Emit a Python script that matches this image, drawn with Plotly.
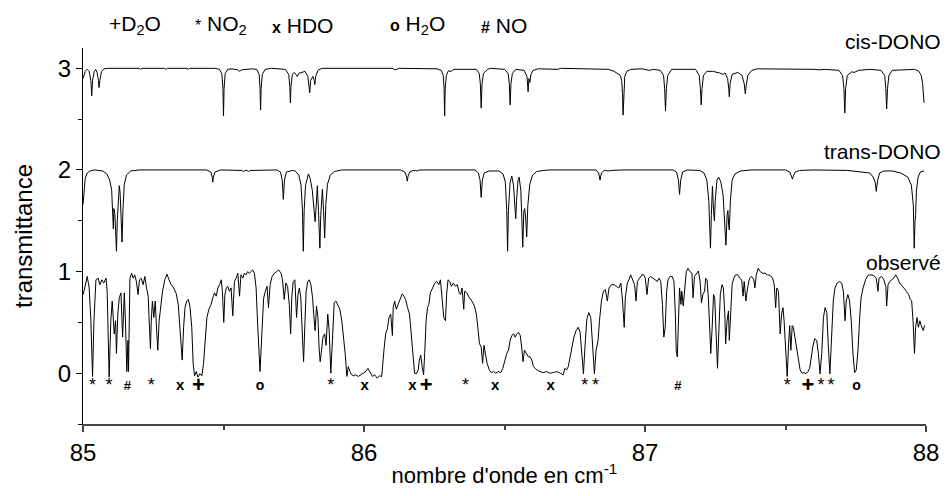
import plotly.graph_objects as go

# simulated cis-DONO spectrum (offset +3)
cis = [
    (85.000, 2.90), (85.008, 2.97), (85.015, 2.99), (85.022, 2.97), (85.028, 2.88),
    (85.031, 2.73), (85.034, 2.88), (85.040, 2.97), (85.045, 2.99), (85.050, 2.96),
    (85.055, 2.88), (85.057, 2.81), (85.060, 2.88), (85.066, 2.97), (85.075, 2.995),
    (85.090, 3.0), (85.200, 3.0), (85.205, 2.99), (85.210, 3.0), (85.290, 3.0),
    (85.295, 2.99), (85.300, 3.0), (85.370, 3.0), (85.375, 2.99), (85.380, 3.0),
    (85.470, 3.0), (85.485, 2.99), (85.494, 2.95), (85.498, 2.80), (85.500, 2.53),
    (85.502, 2.80), (85.506, 2.95), (85.515, 2.99), (85.530, 2.995), (85.550, 2.985),
    (85.557, 2.97), (85.564, 2.985), (85.600, 2.995), (85.618, 2.99), (85.627, 2.94),
    (85.630, 2.80), (85.632, 2.59), (85.634, 2.80), (85.638, 2.94), (85.648, 2.99),
    (85.670, 3.0), (85.720, 2.99), (85.732, 2.94), (85.736, 2.82), (85.738, 2.66),
    (85.740, 2.82), (85.745, 2.94), (85.752, 2.96), (85.758, 2.94), (85.763, 2.92),
    (85.768, 2.95), (85.790, 2.97), (85.800, 2.92), (85.805, 2.82), (85.807, 2.76),
    (85.810, 2.88), (85.818, 2.92), (85.823, 2.88), (85.825, 2.84), (85.828, 2.92),
    (85.836, 2.98), (85.850, 3.0), (86.100, 3.0), (86.112, 2.985), (86.125, 3.0),
    (86.260, 2.995), (86.275, 2.98), (86.282, 2.93), (86.285, 2.80), (86.287, 2.53),
    (86.289, 2.80), (86.293, 2.93), (86.300, 2.975), (86.310, 2.97), (86.320, 2.99),
    (86.400, 2.99), (86.410, 2.95), (86.414, 2.85), (86.417, 2.61), (86.420, 2.85),
    (86.425, 2.95), (86.440, 2.99), (86.450, 3.0), (86.500, 2.99), (86.513, 2.95),
    (86.517, 2.85), (86.520, 2.64), (86.523, 2.85), (86.528, 2.95), (86.540, 2.99),
    (86.570, 2.98), (86.580, 2.92), (86.584, 2.77), (86.587, 2.90), (86.590, 2.86),
    (86.594, 2.94), (86.602, 2.98), (86.620, 2.995), (86.690, 2.99), (86.700, 3.0),
    (86.850, 2.995), (86.870, 2.99), (86.890, 2.97), (86.905, 2.945), (86.912, 2.93),
    (86.917, 2.88), (86.920, 2.75), (86.922, 2.54), (86.924, 2.75), (86.928, 2.92),
    (86.935, 2.97), (86.950, 2.99), (86.990, 2.995), (87.015, 2.98), (87.030, 2.99),
    (87.055, 2.98), (87.066, 2.93), (87.070, 2.80), (87.073, 2.58), (87.076, 2.80),
    (87.081, 2.93), (87.095, 2.99), (87.180, 2.99), (87.193, 2.93), (87.197, 2.80),
    (87.200, 2.64), (87.203, 2.80), (87.208, 2.93), (87.220, 2.97), (87.240, 2.97),
    (87.265, 2.955), (87.277, 2.94), (87.285, 2.955), (87.294, 2.90), (87.298, 2.80),
    (87.300, 2.72), (87.303, 2.85), (87.310, 2.94), (87.330, 2.96), (87.345, 2.93),
    (87.353, 2.85), (87.357, 2.75), (87.360, 2.83), (87.366, 2.93), (87.380, 2.98),
    (87.400, 2.995), (87.600, 2.99), (87.620, 2.985), (87.640, 2.99), (87.690, 2.98),
    (87.703, 2.93), (87.708, 2.80), (87.711, 2.56), (87.714, 2.80), (87.720, 2.93),
    (87.735, 2.965), (87.745, 2.96), (87.760, 2.98), (87.800, 2.99), (87.840, 2.98),
    (87.853, 2.93), (87.857, 2.80), (87.860, 2.60), (87.863, 2.80), (87.868, 2.93),
    (87.880, 2.98), (87.960, 2.99), (87.975, 2.97), (87.983, 2.93), (87.988, 2.85),
    (87.993, 2.66),
]

# simulated trans-DONO spectrum (offset +2)
trans = [
    (85.000, 1.66), (85.003, 1.80), (85.008, 1.92), (85.015, 1.97), (85.025, 1.99),
    (85.040, 2.0), (85.060, 1.995), (85.070, 1.99), (85.085, 1.96), (85.095, 1.90),
    (85.102, 1.80), (85.106, 1.60), (85.108, 1.42), (85.110, 1.62), (85.113, 1.58),
    (85.116, 1.40), (85.119, 1.20), (85.122, 1.50), (85.126, 1.78), (85.129, 1.845),
    (85.132, 1.78), (85.136, 1.50), (85.139, 1.29), (85.142, 1.60), (85.147, 1.86),
    (85.155, 1.95), (85.170, 1.99), (85.200, 2.0), (85.440, 2.0), (85.455, 1.98),
    (85.460, 1.93), (85.462, 1.88), (85.464, 1.93), (85.470, 1.98), (85.490, 2.0),
    (85.565, 1.995), (85.571, 1.985), (85.577, 1.995), (85.583, 1.995), (85.589, 1.985),
    (85.595, 1.995), (85.690, 2.0), (85.703, 1.98), (85.709, 1.90), (85.713, 1.71),
    (85.717, 1.90), (85.724, 1.98), (85.745, 1.995), (85.755, 1.99), (85.768, 1.95),
    (85.776, 1.85), (85.781, 1.60), (85.784, 1.20), (85.787, 1.60), (85.792, 1.85),
    (85.802, 1.96), (85.808, 1.92), (85.816, 1.80), (85.822, 1.60), (85.826, 1.49),
    (85.830, 1.65), (85.834, 1.845), (85.838, 1.60), (85.843, 1.23), (85.846, 1.55),
    (85.852, 1.81), (85.856, 1.60), (85.860, 1.33), (85.864, 1.65), (85.870, 1.86),
    (85.880, 1.95), (85.895, 1.985), (85.905, 1.99), (85.920, 2.0), (86.130, 2.0),
    (86.145, 1.98), (86.151, 1.94), (86.154, 1.89), (86.157, 1.94), (86.163, 1.98),
    (86.175, 1.995), (86.178, 1.99), (86.183, 1.995), (86.191, 1.99), (86.197, 2.0),
    (86.395, 2.0), (86.407, 1.97), (86.413, 1.90), (86.417, 1.73), (86.421, 1.90),
    (86.428, 1.97), (86.445, 1.99), (86.480, 1.99), (86.495, 1.96), (86.503, 1.88),
    (86.508, 1.60), (86.511, 1.20), (86.514, 1.60), (86.520, 1.88), (86.526, 1.94),
    (86.532, 1.85), (86.537, 1.65), (86.540, 1.52), (86.543, 1.70), (86.548, 1.90),
    (86.552, 1.93), (86.558, 1.80), (86.562, 1.50), (86.565, 1.24), (86.569, 1.60),
    (86.572, 1.62), (86.576, 1.50), (86.579, 1.34), (86.583, 1.65), (86.590, 1.86),
    (86.600, 1.95), (86.615, 1.985), (86.640, 1.995), (86.660, 2.0), (86.825, 2.0),
    (86.835, 1.97), (86.840, 1.90), (86.845, 1.97), (86.855, 1.995), (86.870, 1.99),
    (86.880, 1.995), (86.920, 2.0), (87.100, 2.0), (87.112, 1.98), (87.119, 1.90),
    (87.123, 1.76), (87.127, 1.90), (87.134, 1.98), (87.150, 2.0), (87.195, 1.995),
    (87.210, 1.97), (87.220, 1.90), (87.227, 1.70), (87.230, 1.50), (87.233, 1.23),
    (87.236, 1.55), (87.240, 1.84), (87.244, 1.60), (87.247, 1.50), (87.250, 1.70),
    (87.256, 1.90), (87.262, 1.93), (87.270, 1.88), (87.278, 1.75), (87.284, 1.50),
    (87.288, 1.26), (87.292, 1.55), (87.295, 1.60), (87.298, 1.45), (87.300, 1.41),
    (87.304, 1.70), (87.310, 1.90), (87.320, 1.96), (87.340, 1.99), (87.380, 2.0),
    (87.500, 2.0), (87.515, 1.98), (87.522, 1.94), (87.525, 1.91), (87.528, 1.94),
    (87.535, 1.98), (87.550, 1.995), (87.600, 2.0), (87.720, 1.995), (87.740, 1.99),
    (87.780, 1.98), (87.800, 1.97), (87.812, 1.93), (87.819, 1.88), (87.823, 1.79),
    (87.828, 1.90), (87.835, 1.97), (87.850, 1.99), (87.880, 1.99), (87.910, 1.97),
    (87.935, 1.93), (87.948, 1.85), (87.955, 1.65), (87.958, 1.23), (87.961, 1.50),
    (87.963, 1.55), (87.966, 1.80), (87.972, 1.93), (87.980, 1.98), (87.993, 1.99),
]

# observed spectrum
observed = [
    (85.001, 0.774), (85.015, 0.952), (85.022, 0.839), (85.028, 0.516), (85.034, -0.032),
    (85.039, 0.516), (85.046, 0.919), (85.054, 0.935), (85.060, 0.871), (85.067, 0.919),
    (85.074, 0.887), (85.082, 0.935), (85.086, 0.806), (85.093, -0.039), (85.099, 0.516),
    (85.104, 0.710), (85.111, 0.387), (85.116, 0.516), (85.119, 0.194), (85.124, 0.581),
    (85.129, 0.742), (85.135, 0.790), (85.141, 0.355), (85.147, 0.790), (85.151, 0.516),
    (85.156, 0.016), (85.160, 0.323), (85.162, 0.016), (85.167, 0.935), (85.173, 0.984),
    (85.178, 0.935), (85.184, 0.968), (85.190, 0.903), (85.196, 0.774), (85.201, 0.919),
    (85.207, 0.935), (85.214, 0.871), (85.220, 0.952), (85.226, 0.839), (85.232, 0.758),
    (85.236, 0.484), (85.240, 0.242), (85.243, 0.516), (85.247, 0.710), (85.252, 0.548),
    (85.257, 0.710), (85.261, 0.484), (85.266, 0.226), (85.271, 0.516), (85.275, 0.613),
    (85.283, 0.806), (85.291, 0.919), (85.299, 0.974), (85.306, 0.919), (85.314, 0.871),
    (85.323, 0.839), (85.332, 0.781), (85.339, 0.677), (85.346, 0.419), (85.353, 0.129),
    (85.358, 0.452), (85.363, 0.645), (85.369, 0.710), (85.375, 0.726), (85.381, 0.645),
    (85.387, 0.452), (85.392, 0.097), (85.397, -0.026), (85.403, 0.016), (85.409, -0.039),
    (85.416, -0.006), (85.423, -0.026), (85.429, 0.097), (85.435, 0.323), (85.441, 0.548),
    (85.448, 0.629), (85.456, 0.677), (85.462, 0.742), (85.468, 0.790), (85.474, 0.758),
    (85.480, 0.839), (85.486, 0.871), (85.492, 0.919), (85.496, 0.806), (85.501, 0.500),
    (85.505, 0.774), (85.510, 0.839), (85.515, 0.855), (85.521, 0.806), (85.527, 0.839),
    (85.533, 0.565), (85.539, 0.903), (85.545, 0.935), (85.551, 0.984), (85.557, 0.758),
    (85.562, 0.968), (85.569, 0.935), (85.574, 0.984), (85.580, 0.968), (85.586, 1.000),
    (85.592, 0.984), (85.598, 1.000), (85.604, 1.016), (85.610, 0.984), (85.616, 0.839),
    (85.622, 0.452), (85.630, 0.016), (85.637, 0.419), (85.643, 0.742), (85.649, 0.806),
    (85.655, 0.855), (85.660, 0.645), (85.666, 0.871), (85.673, 0.952), (85.681, 0.984),
    (85.689, 1.000), (85.696, 1.016), (85.705, 0.984), (85.710, 0.919), (85.716, 0.726),
    (85.722, 0.887), (85.728, 0.855), (85.734, 0.677), (85.739, 0.387), (85.743, 0.742),
    (85.748, 0.903), (85.754, 0.919), (85.760, 0.548), (85.765, 0.774), (85.770, 0.839),
    (85.775, 0.742), (85.781, 0.355), (85.785, 0.113), (85.790, 0.516), (85.794, 0.806),
    (85.800, 0.903), (85.805, 0.919), (85.811, 0.871), (85.817, 0.742), (85.821, 0.581),
    (85.826, 0.419), (85.831, 0.661), (85.836, 0.548), (85.840, 0.258), (85.844, 0.113),
    (85.849, 0.226), (85.854, 0.355), (85.860, 0.387), (85.865, 0.274), (85.871, 0.581),
    (85.876, 0.419), (85.882, 0.000), (85.888, 0.355), (85.894, 0.694), (85.900, 0.710),
    (85.907, 0.661), (85.914, 0.629), (85.921, 0.516), (85.925, 0.419), (85.933, 0.194),
    (85.939, -0.032), (85.944, 0.065), (85.950, 0.016), (85.956, -0.016), (85.962, -0.026),
    (85.970, -0.016), (85.980, -0.032), (85.988, -0.016), (85.998, 0.000), (86.006, 0.016),
    (86.014, 0.048), (86.021, 0.006), (86.030, -0.032), (86.038, -0.016), (86.047, -0.048),
    (86.056, -0.026), (86.063, -0.032), (86.071, 0.226), (86.077, 0.387), (86.083, 0.435),
    (86.089, 0.548), (86.095, 0.581), (86.101, 0.371), (86.104, 0.645), (86.109, 0.710),
    (86.115, 0.629), (86.122, 0.677), (86.130, 0.742), (86.136, 0.781), (86.142, 0.758),
    (86.148, 0.726), (86.155, 0.645), (86.162, 0.581), (86.168, 0.387), (86.174, 0.194),
    (86.180, 0.000), (86.186, -0.006), (86.193, 0.032), (86.197, 0.129), (86.202, 0.177),
    (86.207, 0.065), (86.212, -0.016), (86.216, 0.194), (86.221, 0.516), (86.226, 0.645),
    (86.231, 0.677), (86.236, 0.790), (86.245, 0.855), (86.252, 0.887), (86.259, 0.903),
    (86.266, 0.871), (86.272, 0.919), (86.278, 0.758), (86.284, 0.548), (86.290, 0.516),
    (86.294, 0.774), (86.299, 0.919), (86.305, 0.903), (86.311, 0.855), (86.318, 0.887),
    (86.325, 0.855), (86.332, 0.871), (86.339, 0.790), (86.344, 0.774), (86.349, 0.839),
    (86.355, 0.629), (86.358, 0.806), (86.366, 0.790), (86.375, 0.742), (86.384, 0.710),
    (86.393, 0.661), (86.400, 0.581), (86.405, 0.452), (86.411, 0.290), (86.417, 0.258),
    (86.422, 0.097), (86.427, 0.274), (86.431, 0.210), (86.438, 0.097), (86.446, 0.032),
    (86.453, 0.006), (86.461, 0.016), (86.469, 0.000), (86.479, 0.016), (86.487, 0.006),
    (86.494, 0.048), (86.502, 0.145), (86.508, 0.194), (86.514, 0.226), (86.520, 0.323),
    (86.526, 0.371), (86.532, 0.387), (86.538, 0.355), (86.544, 0.387), (86.550, 0.403),
    (86.556, 0.371), (86.561, 0.258), (86.566, 0.113), (86.571, 0.226), (86.578, 0.194),
    (86.585, 0.161), (86.591, 0.161), (86.597, 0.129), (86.603, 0.065), (86.615, 0.032),
    (86.626, 0.016), (86.638, 0.006), (86.650, 0.016), (86.662, 0.000), (86.674, 0.006),
    (86.686, 0.016), (86.698, 0.000), (86.709, -0.016), (86.715, 0.048), (86.721, 0.032),
    (86.727, 0.065), (86.733, 0.161), (86.739, 0.258), (86.747, 0.355), (86.755, 0.419),
    (86.762, 0.452), (86.769, 0.403), (86.774, 0.226), (86.781, -0.006), (86.787, 0.290),
    (86.793, 0.532), (86.800, 0.597), (86.807, 0.548), (86.814, 0.258), (86.820, -0.006),
    (86.826, 0.226), (86.833, 0.323), (86.838, 0.516), (86.845, 0.710), (86.852, 0.806),
    (86.859, 0.823), (86.866, 0.710), (86.872, 0.839), (86.881, 0.871), (86.890, 0.871),
    (86.898, 0.855), (86.907, 0.839), (86.914, 0.887), (86.920, 0.710), (86.926, 0.452),
    (86.930, 0.742), (86.937, 0.887), (86.943, 0.919), (86.949, 0.968), (86.956, 0.919),
    (86.963, 0.871), (86.968, 0.710), (86.973, 0.903), (86.981, 0.935), (86.989, 0.968),
    (86.996, 0.968), (87.001, 0.935), (87.007, 0.774), (87.013, 0.935), (87.020, 0.952),
    (87.028, 0.935), (87.037, 0.919), (87.044, 0.903), (87.050, 0.935), (87.056, 0.903),
    (87.062, 0.677), (87.067, 0.355), (87.072, 0.452), (87.077, 0.806), (87.082, 0.919),
    (87.089, 0.952), (87.097, 0.952), (87.103, 0.903), (87.108, 0.581), (87.111, 0.226),
    (87.115, 0.161), (87.118, 0.516), (87.123, 0.839), (87.128, 0.677), (87.131, 0.806),
    (87.136, 0.661), (87.141, 0.839), (87.147, 1.000), (87.153, 1.032), (87.160, 1.000),
    (87.167, 0.984), (87.171, 0.742), (87.176, 0.952), (87.183, 0.984), (87.190, 1.006),
    (87.196, 0.903), (87.201, 0.694), (87.206, 0.774), (87.212, 0.806), (87.216, 0.935),
    (87.221, 0.919), (87.226, 0.710), (87.230, 0.419), (87.234, 0.194), (87.239, 0.452),
    (87.244, 0.774), (87.248, 0.742), (87.253, 0.323), (87.258, 0.048), (87.262, 0.355),
    (87.268, 0.774), (87.274, 0.871), (87.279, 0.839), (87.284, 0.581), (87.287, 0.290),
    (87.292, 0.516), (87.297, 0.613), (87.300, 0.323), (87.305, 0.581), (87.310, 0.871),
    (87.316, 0.935), (87.322, 0.968), (87.330, 0.968), (87.337, 0.935), (87.344, 0.919),
    (87.349, 0.758), (87.353, 0.903), (87.359, 0.710), (87.365, 0.839), (87.372, 0.935),
    (87.379, 0.952), (87.387, 0.919), (87.391, 0.839), (87.396, 0.968), (87.403, 1.032),
    (87.410, 1.000), (87.418, 0.984), (87.427, 0.984), (87.436, 0.968), (87.446, 0.961),
    (87.454, 0.935), (87.460, 0.871), (87.465, 0.645), (87.469, 0.839), (87.475, 0.806),
    (87.481, 0.387), (87.486, 0.581), (87.491, 0.645), (87.495, 0.516), (87.501, 0.194),
    (87.506, -0.032), (87.511, 0.290), (87.515, 0.468), (87.519, 0.226), (87.524, 0.468),
    (87.528, 0.452), (87.534, 0.355), (87.540, 0.226), (87.546, 0.129), (87.552, 0.032),
    (87.559, 0.000), (87.566, 0.006), (87.573, -0.006), (87.580, 0.016), (87.586, 0.048),
    (87.591, 0.161), (87.597, 0.258), (87.604, 0.339), (87.611, 0.323), (87.617, 0.194),
    (87.623, -0.006), (87.629, 0.194), (87.635, 0.548), (87.641, 0.645), (87.647, 0.597),
    (87.652, 0.290), (87.658, -0.006), (87.664, 0.355), (87.670, 0.710), (87.676, 0.839),
    (87.684, 0.887), (87.693, 0.903), (87.700, 0.887), (87.706, 0.806), (87.712, 0.516),
    (87.716, 0.710), (87.722, 0.774), (87.728, 0.710), (87.734, 0.516), (87.740, 0.194),
    (87.746, 0.006), (87.752, 0.032), (87.758, 0.226), (87.764, 0.548), (87.769, 0.742),
    (87.776, 0.839), (87.785, 0.919), (87.793, 0.961), (87.802, 0.968), (87.814, 0.961),
    (87.823, 0.935), (87.829, 0.806), (87.833, 0.935), (87.842, 0.952), (87.850, 0.919),
    (87.857, 0.855), (87.860, 0.661), (87.865, 0.871), (87.871, 0.903), (87.878, 0.919),
    (87.885, 0.935), (87.892, 0.968), (87.899, 0.935), (87.906, 0.887), (87.914, 0.855),
    (87.921, 0.839), (87.930, 0.806), (87.938, 0.774), (87.944, 0.726), (87.949, 0.710),
    (87.954, 0.516), (87.959, 0.194), (87.963, 0.452), (87.968, 0.548), (87.973, 0.452),
    (87.978, 0.516), (87.983, 0.468), (87.990, 0.420), (87.995, 0.470),
]

# line assignments under the observed spectrum
mark_x = [85.034, 85.093, 85.158, 85.243, 85.346, 85.411, 85.630, 85.882, 86.002,
          86.172, 86.221, 86.361, 86.467, 86.664, 86.786, 86.824, 87.117, 87.506,
          87.580, 87.626, 87.662, 87.753]
mark_sym = ["*", "*", "#", "*", "x", "+", "o", "*", "x",
            "x", "+", "*", "x", "x", "*", "*", "#", "*",
            "+", "*", "*", "o"]

legend_sym = ["+", "*", "x", "o", "#"]
legend_txt = ["D<sub>2</sub>O", " NO<sub>2</sub>", " HDO", " H<sub>2</sub>O", " NO"]
legend_x = [85.085, 85.39, 85.665, 86.085, 86.41]

labels = ["cis-DONO", "trans-DONO", "observé"]
label_y = [3.26, 2.18, 1.09]

Y_RANGE = [-0.5, 3.2]

sym_size = {"*": 18, "#": 13, "x": 15, "+": 22, "o": 14}
sym_bold = {"*": False, "#": True, "x": True, "+": True, "o": True}


def sym_text(s):
    return "<b>" + s + "</b>" if sym_bold[s] else s


def to_paper(y):
    return (y - Y_RANGE[0]) / (Y_RANGE[1] - Y_RANGE[0])


fig = go.Figure()
for data in (cis, trans, observed):
    xs, ys = zip(*data)
    fig.add_trace(go.Scatter(x=xs, y=ys, mode="lines",
                             line=dict(color="black", width=1), hoverinfo="skip"))

fig.add_trace(go.Scatter(
    x=mark_x, y=[-0.13] * len(mark_x), mode="text",
    text=[sym_text(s) for s in mark_sym],
    textfont=dict(size=[sym_size[s] for s in mark_sym], color="black",
                  family="Liberation Sans, Arial"),
    textposition="middle center", hoverinfo="skip", cliponaxis=False))

# legend line at the top
for s, t, x in zip(legend_sym, legend_txt, legend_x):
    head = s if s == "+" else '<span style="font-size:16px">%s</span>' % sym_text(s)
    fig.add_annotation(x=x, y=1.06, xref="x", yref="paper", xanchor="left",
                       yanchor="middle", showarrow=False, text=head + t,
                       font=dict(size=21, color="black"))

for txt, y in zip(labels, label_y):
    fig.add_annotation(x=1.02, y=to_paper(y), xref="paper", yref="paper", xanchor="right",
                       yanchor="middle", text=txt, showarrow=False,
                       font=dict(size=21, color="black"))

fig.update_layout(
    width=951, height=496,
    margin=dict(l=83, r=25, t=48, b=64),
    plot_bgcolor="white", paper_bgcolor="white",
    showlegend=False,
    font=dict(family="Liberation Sans, Arial", color="black"),
    xaxis=dict(range=[85, 88], tickvals=[85, 86, 87, 88], ticks="outside",
               ticklen=6, tickwidth=1.5, tickcolor="#444",
               minor=dict(dtick=0.5, tick0=85, ticks="outside", ticklen=4, tickcolor="#444"),
               showline=True, linecolor="#444", linewidth=1.5,
               showgrid=False, zeroline=False,
               tickfont=dict(size=24),
               title=dict(text="nombre d'onde en cm<sup>-1</sup>", font=dict(size=22), standoff=3)),
    yaxis=dict(range=Y_RANGE, tickvals=[0, 1, 2, 3], ticks="outside",
               ticklen=6, tickcolor="black",
               minor=dict(dtick=0.5, tick0=0, ticks="outside", ticklen=4, tickcolor="black"),
               showline=True, linecolor="black", linewidth=1,
               showgrid=False, zeroline=False,
               tickfont=dict(size=24),
               title=dict(text="transmittance", font=dict(size=24), standoff=18)),
)

# drop the default page margin so the figure sits at the window origin
fig.write_html("out.html", config={"displayModeBar": False},
               post_script="document.body.style.margin='0px';")
